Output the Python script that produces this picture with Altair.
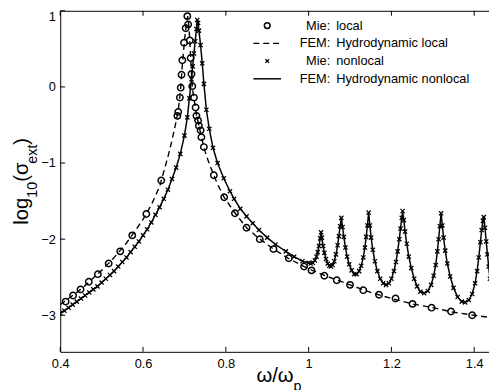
import altair as alt
import pandas as pd

# ---------------- data ----------------
# Mie: local (open circles)
mie_local_x = [0.413, 0.431, 0.449, 0.469, 0.491, 0.517, 0.545, 0.574, 0.608, 0.644,
               0.683, 0.685, 0.689, 0.691, 0.693, 0.695, 0.699, 0.703, 0.707, 0.709,
               0.713, 0.715, 0.717, 0.719, 0.723, 0.727, 0.729, 0.733, 0.735, 0.739,
               0.741, 0.747, 0.771, 0.796, 0.822, 0.850, 0.882, 0.915, 0.952, 0.989,
               1.007, 1.038, 1.068, 1.100, 1.132, 1.170, 1.210, 1.251, 1.297, 1.344, 1.395]
mie_local_y = [-2.82, -2.74, -2.66, -2.56, -2.46, -2.32, -2.16, -1.95, -1.67, -1.23,
               -0.38, -0.33, -0.14, -0.01, 0.16, 0.35, 0.58, 0.77, 0.93, 0.82,
               0.61, 0.38, 0.17, 0.01, -0.14, -0.27, -0.38, -0.44, -0.51, -0.57,
               -0.66, -0.79, -1.16, -1.45, -1.66, -1.85, -2.00, -2.13, -2.25, -2.36,
               -2.41, -2.48, -2.54, -2.60, -2.67, -2.73, -2.78, -2.85, -2.90, -2.95, -3.00]

# FEM: Hydrodynamic local (dashed)
fem_local_x = [0.40, 0.42, 0.44, 0.46, 0.48, 0.50, 0.52, 0.54, 0.56, 0.58, 0.60, 0.62,
               0.64, 0.66, 0.67, 0.68, 0.685, 0.69, 0.695, 0.70, 0.705, 0.708, 0.711,
               0.714, 0.717, 0.72, 0.725, 0.73, 0.735, 0.74, 0.75, 0.76, 0.771, 0.78,
               0.796, 0.82, 0.85, 0.88, 0.91, 0.95, 1.00, 1.05, 1.10, 1.15, 1.20, 1.25,
               1.30, 1.35, 1.40, 1.44]
fem_local_y = [-2.86, -2.78, -2.70, -2.61, -2.51, -2.41, -2.30, -2.18, -2.05, -1.90, -1.74, -1.55,
               -1.31, -0.92, -0.70, -0.45, -0.31, -0.08, 0.30, 0.60, 0.85, 0.93, 0.78,
               0.50, 0.18, -0.05, -0.22, -0.40, -0.50, -0.64, -0.85, -1.01, -1.16, -1.28,
               -1.45, -1.64, -1.85, -1.99, -2.11, -2.25, -2.39, -2.50, -2.60, -2.70, -2.78, -2.85,
               -2.90, -2.96, -3.00, -3.03]

# FEM: Hydrodynamic nonlocal (solid) -- Mie: nonlocal markers sit on the same points
nonlocal_x = [0.400, 0.410, 0.420, 0.430, 0.440, 0.450, 0.460, 0.470, 0.480, 0.490,
              0.500, 0.510, 0.520, 0.530, 0.540, 0.550, 0.560, 0.570, 0.580, 0.590,
              0.600, 0.610, 0.620, 0.630, 0.640, 0.650, 0.660, 0.670, 0.680, 0.690,
              0.700, 0.707, 0.712, 0.717, 0.720, 0.723, 0.726, 0.729, 0.731, 0.733,
              0.735, 0.739, 0.743, 0.747, 0.753, 0.760, 0.769, 0.780, 0.795, 0.810,
              0.820, 0.835, 0.850, 0.865, 0.880, 0.900, 0.920, 0.945, 0.965, 0.985,
              1.000, 1.005, 1.010, 1.015, 1.019, 1.022, 1.025, 1.028, 1.030, 1.032,
              1.035, 1.038, 1.042, 1.046, 1.050, 1.054, 1.058, 1.062, 1.066, 1.070,
              1.073, 1.076, 1.079, 1.082, 1.085, 1.089, 1.093, 1.098, 1.104, 1.110,
              1.116, 1.122, 1.127, 1.132, 1.136, 1.139, 1.142, 1.145, 1.148, 1.151,
              1.155, 1.160, 1.166, 1.173, 1.180, 1.187, 1.194, 1.200, 1.206, 1.211,
              1.215, 1.219, 1.222, 1.225, 1.227, 1.230, 1.233, 1.237, 1.242, 1.248,
              1.255, 1.262, 1.270, 1.279, 1.288, 1.296, 1.302, 1.307, 1.311, 1.314,
              1.317, 1.320, 1.323, 1.326, 1.330, 1.335, 1.342, 1.350, 1.360, 1.370,
              1.378, 1.387, 1.395, 1.402, 1.407, 1.411, 1.415, 1.418, 1.421, 1.423,
              1.426, 1.429, 1.432, 1.435, 1.438]
nonlocal_y = [-2.97, -2.94, -2.90, -2.86, -2.82, -2.78, -2.74, -2.70, -2.66, -2.62,
              -2.57, -2.52, -2.47, -2.42, -2.36, -2.30, -2.24, -2.17, -2.10, -2.03,
              -1.95, -1.87, -1.78, -1.68, -1.58, -1.47, -1.35, -1.21, -1.06, -0.88,
              -0.64, -0.40, -0.15, 0.10, 0.27, 0.44, 0.60, 0.76, 0.88, 0.84,
              0.74, 0.55, 0.31, 0.04, -0.30, -0.55, -0.80, -1.00, -1.20, -1.37,
              -1.47, -1.60, -1.70, -1.79, -1.88, -1.98, -2.07, -2.16, -2.23, -2.29,
              -2.31, -2.32, -2.31, -2.28, -2.23, -2.17, -2.09, -1.99, -1.91, -1.98,
              -2.09, -2.18, -2.26, -2.32, -2.35, -2.36, -2.34, -2.29, -2.20, -2.08,
              -1.96, -1.83, -1.72, -1.84, -1.97, -2.11, -2.23, -2.33, -2.41, -2.46,
              -2.46, -2.42, -2.35, -2.24, -2.11, -1.97, -1.82, -1.65, -1.82, -1.98,
              -2.14, -2.29, -2.42, -2.52, -2.58, -2.60, -2.58, -2.52, -2.42, -2.30,
              -2.16, -2.00, -1.86, -1.72, -1.63, -1.75, -1.90, -2.06, -2.23, -2.38,
              -2.52, -2.62, -2.69, -2.71, -2.68, -2.60, -2.48, -2.34, -2.16, -2.00,
              -1.83, -1.66, -1.82, -1.98, -2.15, -2.32, -2.49, -2.64, -2.76, -2.82,
              -2.83, -2.80, -2.72, -2.58, -2.42, -2.24, -2.04, -1.88, -1.76, -1.71,
              -1.85, -2.03, -2.20, -2.36, -2.52]

x_ticks = [0.4, 0.6, 0.8, 1.0, 1.2, 1.4]
y_ticks = [-3, -2, -1, 0, 1]

legend_prefix = ["Mie:", "FEM:", "Mie:", "FEM:"]
legend_suffix = ["local", "Hydrodynamic local", "nonlocal", "Hydrodynamic nonlocal"]

# axis titles, split into normal / subscript pieces
x_title_parts = [("ω/ω", False), ("p", True)]
y_title_parts = [("log", False), ("10", True), ("(σ", False), ("ext", True), (")", False)]

# ---------------- layout ----------------
W, H = 435, 346
X_DOMAIN = [0.4, 0.4 + W / 420]
Y_DOMAIN = [-3.48, 1.0]
FONT = "Liberation Sans"
MAIN_FS, SUB_FS, SUB_SHIFT = 20.5, 14.5, 9

# approximate advance widths (em) for Liberation Sans glyphs used in the titles
ADV = {"l": 0.222, "o": 0.556, "g": 0.556, "1": 0.556, "0": 0.556, "(": 0.333, ")": 0.333,
       "σ": 0.565, "e": 0.556, "x": 0.5, "t": 0.278, "ω": 0.78, "/": 0.278, "p": 0.556}


def text_width(s, fs):
    return sum(ADV.get(c, 0.55) for c in s) * fs


xs = alt.Scale(domain=X_DOMAIN, nice=False, zero=False)
ys = alt.Scale(domain=Y_DOMAIN, nice=False, zero=False)

df_ml = pd.DataFrame({"x": mie_local_x, "y": mie_local_y})
df_fl = pd.DataFrame({"x": fem_local_x, "y": fem_local_y})
df_nl = pd.DataFrame({"x": nonlocal_x, "y": nonlocal_y})
df_xt = pd.DataFrame({"x": x_ticks})
df_yt = pd.DataFrame({"y": y_ticks})
one = pd.DataFrame({"a": [0]})

x_axis = alt.Axis(values=x_ticks, format="~g", grid=False, tickSize=0, labelPadding=6,
                  labelFlush=False, domainColor="black", labelColor="black",
                  labelFontSize=13, title="")
y_axis = alt.Axis(values=y_ticks, grid=False, tickSize=0, labelPadding=5,
                  labelFlush=True, domainColor="black", labelColor="black",
                  labelFontSize=13, title="")

X = alt.X("x:Q", scale=xs, axis=x_axis)
Y = alt.Y("y:Q", scale=ys, axis=y_axis)

dashed = alt.Chart(df_fl).mark_line(color="black", strokeWidth=1.4, strokeDash=[6, 4],
                                    clip=True).encode(x=X, y=Y, order="x:Q")

solid = alt.Chart(df_nl).mark_line(color="black", strokeWidth=1.5, clip=True).encode(
    x=X, y=Y, order="x:Q")

circles = alt.Chart(df_ml).mark_point(shape="circle", filled=False, color="black",
                                      size=42, strokeWidth=1.5, opacity=1, clip=True).encode(
    x=X, y=Y)

XSHAPE = "M-1,-1L1,1M-1,1L1,-1"
crosses = alt.Chart(df_nl).mark_point(shape=XSHAPE, filled=False, color="black",
                                      size=18, strokeWidth=1.3, opacity=1, clip=True).encode(
    x=X, y=Y)

# inward ticks and top box line
yticks = alt.Chart(df_yt).mark_rule(color="black", strokeWidth=1).encode(
    y=Y, x=alt.value(0), x2=alt.value(5))
xticks_b = alt.Chart(df_xt).mark_rule(color="black", strokeWidth=1).encode(
    x=X, y=alt.value(H), y2=alt.value(H - 5))
xticks_t = alt.Chart(df_xt).mark_rule(color="black", strokeWidth=1).encode(
    x=X, y=alt.value(0), y2=alt.value(5))
top_line = alt.Chart(one).mark_rule(color="black", strokeWidth=1).encode(
    x=alt.value(0), x2=alt.value(W + 2), y=alt.value(0.5))

# axis titles made of text pieces (for the subscripts)
title_layers = []
cx = 199.0              # x title start (plot px)
base_y = H + 31         # x title baseline
for s, sub in x_title_parts:
    fs = SUB_FS if sub else MAIN_FS
    title_layers.append(alt.Chart(one).mark_text(
        text=s, align="left", baseline="alphabetic", font=FONT, fontSize=fs,
        color="black").encode(x=alt.value(cx), y=alt.value(base_y + (SUB_SHIFT if sub else 0))))
    cx += text_width(s, fs)

cy = 217.0              # y title start (plot px), text reads upward
base_x = -33.0          # y title baseline
for s, sub in y_title_parts:
    fs = SUB_FS if sub else MAIN_FS
    title_layers.append(alt.Chart(one).mark_text(
        text=s, align="left", baseline="alphabetic", angle=270, font=FONT, fontSize=fs,
        color="black").encode(x=alt.value(base_x + (SUB_SHIFT if sub else 0)), y=alt.value(cy)))
    cy -= text_width(s, fs)

# legend (drawn by hand, no box)
leg_layers = []
SYM_X, LINE_X0, LINE_X1 = 210, 196, 224
PRE_X, SUF_X = 274, 280
for i in range(4):
    ry = 15 + 18 * i
    if i == 0:
        leg_layers.append(alt.Chart(one).mark_point(shape="circle", filled=False, color="black",
                                                    size=34, strokeWidth=1.5, opacity=1).encode(
            x=alt.value(SYM_X), y=alt.value(ry)))
    elif i == 1:
        leg_layers.append(alt.Chart(one).mark_rule(color="black", strokeWidth=1.4,
                                                   strokeDash=[6, 4]).encode(
            x=alt.value(LINE_X0), x2=alt.value(LINE_X1), y=alt.value(ry)))
    elif i == 2:
        leg_layers.append(alt.Chart(one).mark_point(shape=XSHAPE, filled=False, color="black",
                                                    size=14, strokeWidth=1.3, opacity=1).encode(
            x=alt.value(SYM_X), y=alt.value(ry)))
    else:
        leg_layers.append(alt.Chart(one).mark_rule(color="black", strokeWidth=1.5).encode(
            x=alt.value(LINE_X0), x2=alt.value(LINE_X1), y=alt.value(ry)))
    leg_layers.append(alt.Chart(one).mark_text(text=legend_prefix[i], align="right",
                                               baseline="middle", font=FONT, fontSize=13,
                                               color="black").encode(
        x=alt.value(PRE_X), y=alt.value(ry)))
    leg_layers.append(alt.Chart(one).mark_text(text=legend_suffix[i], align="left",
                                               baseline="middle", font=FONT, fontSize=13,
                                               color="black").encode(
        x=alt.value(SUF_X), y=alt.value(ry)))

chart = alt.layer(dashed, solid, circles, crosses, yticks, xticks_b, xticks_t, top_line,
                  *title_layers, *leg_layers).properties(
    width=W, height=H,
    autosize=alt.AutoSizeParams(type="none"),
    padding={"left": 53, "top": 0, "right": 0, "bottom": 44},
    background="white",
).configure(font=FONT, view=alt.ViewConfig(stroke=None),
            axis=alt.AxisConfig(labelFont=FONT, titleFont=FONT))

chart.save("out.html", embed_options={"renderer": "svg", "actions": False})
